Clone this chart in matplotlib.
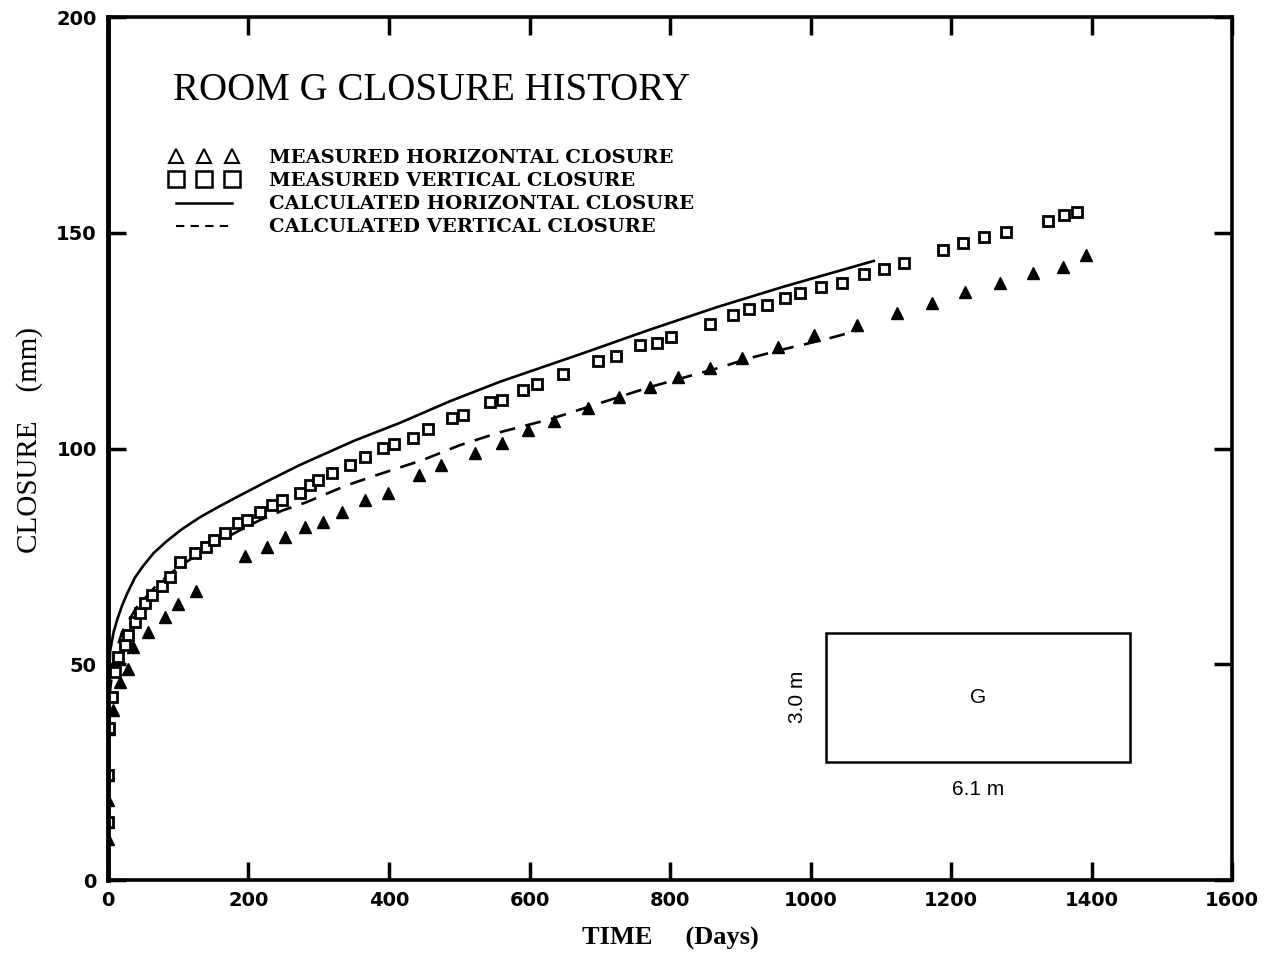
import matplotlib
matplotlib.use("Agg")
import matplotlib.pyplot as plt
from matplotlib.lines import Line2D
from matplotlib.patches import Rectangle

# measured horizontal closure (triangles)
tri_day = [0, 0, 0, 0, 1, 7, 17, 28,
           36, 57, 81, 100, 125, 195, 226, 252,
           280, 306, 333, 366, 399, 443, 474, 522,
           561, 598, 635, 683, 727, 772, 811, 857,
           902, 954, 1005, 1066, 1123, 1173, 1220, 1270,
           1317, 1359, 1392]
tri_mm = [9.5, 13.4, 18.5, 24.3, 35, 39.4, 46, 49,
          54, 57.5, 61, 64, 67, 75, 77.2, 79.5,
          81.8, 83, 85.3, 88, 89.7, 93.9, 96.2, 98.9,
          101.3, 104.3, 106.4, 109.4, 111.9, 114.3, 116.6, 118.6,
          121, 123.5, 126.3, 128.6, 131.4, 133.7, 136.3, 138.4,
          140.7, 142.1, 144.8]

# measured vertical closure (squares)
sq_day = [0, 0, 1, 5, 10, 14, 24, 29,
          38, 46, 53, 62, 77, 88, 102, 124,
          139, 151, 167, 185, 198, 216, 233, 248,
          273, 288, 299, 319, 344, 366, 391, 407,
          434, 456, 489, 505, 544, 561, 591, 611,
          648, 698, 723, 757, 781, 801, 857, 890,
          912, 938, 964, 985, 1015, 1045, 1076, 1105,
          1133, 1189, 1217, 1247, 1278, 1338, 1361, 1379]
sq_mm = [13.4, 24.3, 35.2, 42.4, 48.2, 51.7, 54.5, 56.8,
         59.8, 61.9, 64.2, 66, 68.1, 70.2, 73.7, 75.8,
         77.2, 78.8, 80.4, 82.7, 83.4, 85.3, 86.9, 88,
         89.7, 91.5, 92.7, 94.3, 96.2, 98, 100.1, 101,
         102.4, 104.5, 107, 107.8, 110.8, 111.2, 113.6, 114.9,
         117.3, 120.3, 121.4, 124, 124.4, 125.8, 128.9, 130.9,
         132.3, 133.4, 134.9, 136, 137.4, 138.4, 140.4, 141.6,
         143, 146, 147.6, 149, 150.2, 152.7, 154.1, 154.8]

# calculated horizontal closure (solid)
calc_h_day = [0, 1, 3, 8, 13, 20, 27, 38, 50, 65, 84, 105, 131, 155, 178,
              225, 273, 350, 416, 487, 558, 676, 770, 867, 961, 1090]
calc_h_mm = [0, 42, 53, 57.5, 60.3, 63.6, 66.3, 70, 72.8, 75.8, 78.6, 81.3,
             84.1, 86.3, 88.3, 92.3, 96.2, 101.8, 106, 111, 115.5, 122.1,
             127.5, 132.8, 137.5, 143.5]

# calculated vertical closure (dashed)
calc_v_day = [0, 1, 3, 8, 20, 40, 70, 100, 150, 188, 216, 249, 283, 312,
              340, 383, 447, 501, 558, 629, 690, 772, 867, 914, 961, 1018,
              1066]
calc_v_mm = [0, 32, 44, 51, 57.5, 63, 68.5, 72.5, 77.8, 81.1, 83.4, 85.7,
             87.6, 89.6, 91.5, 93.9, 97.3, 100.8, 103.8, 106.8, 110, 114.3,
             118.6, 121, 123, 125.2, 127.3]

legend_labels = ["MEASURED HORIZONTAL CLOSURE", "MEASURED VERTICAL CLOSURE",
                 "CALCULATED HORIZONTAL CLOSURE", "CALCULATED VERTICAL CLOSURE"]
x_ticks = [0, 200, 400, 600, 800, 1000, 1200, 1400, 1600]
y_ticks = [0, 50, 100, 150, 200]

fig = plt.figure(figsize=(12.75, 9.55), dpi=100)
ax = fig.add_axes([0.0847, 0.0785, 0.8816, 0.9035])

ax.plot(calc_h_day, calc_h_mm, color="k", lw=1.9, ls="-")
ax.plot(calc_v_day, calc_v_mm, color="k", lw=1.9, ls=(0, (6, 4)))
ax.plot(tri_day, tri_mm, ls="none", marker="^", ms=9, color="k")
ax.plot(sq_day, sq_mm, ls="none", marker="s", ms=6.5, mfc="white", mec="k", mew=2)

ax.set_xlim(0, 1600)
ax.set_ylim(0, 200)
ax.set_xticks(x_ticks)
ax.set_yticks(y_ticks)
ax.tick_params(direction="in", length=13, width=2.5, top=True, right=True,
               labelsize=14, pad=8)
for lab in ax.get_xticklabels() + ax.get_yticklabels():
    lab.set_fontfamily("DejaVu Sans")
    lab.set_fontweight("bold")
for s in ax.spines.values():
    s.set_linewidth(2.6)
ax.spines["left"].set_linewidth(3.5)

ax.set_xlabel("TIME     (Days)", fontfamily="Liberation Serif", fontweight="bold",
              fontsize=19, labelpad=12)
ax.text(-0.07, 0.51, "CLOSURE    (mm)", transform=ax.transAxes, rotation=90,
        ha="center", va="center", fontfamily="Liberation Serif", fontsize=21)

ax.text(0.058, 0.915, "ROOM G CLOSURE HISTORY", transform=ax.transAxes,
        ha="left", va="center", fontfamily="Liberation Serif", fontsize=28)

handles = [
    Line2D([], [], ls="none", marker="^", ms=10, mfc="white", mec="k", mew=1.5),
    Line2D([], [], ls="none", marker="s", ms=11, mfc="white", mec="k", mew=1.8),
    Line2D([], [], color="k", lw=1.8, ls="-"),
    Line2D([], [], color="k", lw=1.5, ls=(0, (4, 3))),
]
ax.legend(handles, legend_labels, loc="upper left", bbox_to_anchor=(0.055, 0.847),
          frameon=False, numpoints=3, handlelength=3.5, handletextpad=1.6,
          labelspacing=0.26, borderpad=0, borderaxespad=0,
          prop={"family": "DejaVu Serif", "weight": "bold", "size": 14})

# room cross-section inset
ax.add_patch(Rectangle((1022, 27.3), 433, 29.9, fill=False, ec="k", lw=1.8))
ax.text(1238, 42.4, "G", ha="center", va="center", fontfamily="Liberation Sans",
        fontsize=15)
ax.text(981, 42.4, "3.0 m", ha="center", va="center", rotation=90,
        fontfamily="Liberation Sans", fontsize=15)
ax.text(1238, 20.9, "6.1 m", ha="center", va="center",
        fontfamily="Liberation Sans", fontsize=15)

fig.savefig("out.png", dpi=100)
